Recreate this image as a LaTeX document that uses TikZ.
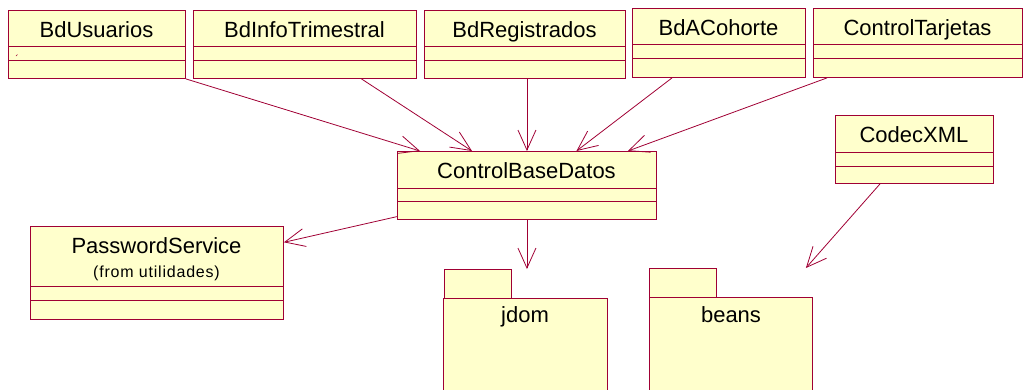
\documentclass[tikz,border=0pt]{standalone}
\usepackage{fontspec}
\setmainfont{Liberation Sans}
\newfontfamily\subfont[LetterSpace=5]{Liberation Sans}
\usetikzlibrary{arrows.meta,calc}
\definecolor{umlred}{RGB}{160,0,52}
\definecolor{umlfill}{RGB}{255,255,204}
\tikzset{
 cls/.style={draw=umlred, fill=umlfill, line width=0.9pt, rectangle, inner sep=0pt, anchor=north west},
 sepline/.style={draw=umlred, line width=0.9pt},
 ttl/.style={inner sep=0pt, font=\fontsize{22}{26}\selectfont, text=black, text height=15.7pt, text depth=0pt},
 subttl/.style={inner sep=0pt, font=\subfont\fontsize{16}{19}\selectfont, text=black, text height=11.7pt, text depth=0pt},
 dep/.style={draw=umlred, line width=0.8pt, -{Straight Barb[length=20pt,width=18pt]}},
}
\newcommand\umlclass[8]{%
 \node[cls, minimum width={(#4)-(#2)}, minimum height={(#5)-(#3)}] (#1) at (#2,#3) {};
 \draw[sepline] (#2,#6) -- (#4,#6) (#2,#7) -- (#4,#7);
 \node[ttl] (#1t) at ({(#2+#4)/2},{(#3+#6)/2+0.8}) {#8};
}
\begin{document}
\begin{tikzpicture}[x=1pt,y=-1pt]
\useasboundingbox (0,0) rectangle (1024,389);
\clip (0,0) rectangle (1024,389);
\umlclass{bdu}{8}{10}{185}{78}{46.7}{60.3}{BdUsuarios}
\umlclass{bdi}{193}{10}{416}{78}{46.7}{60.3}{BdInfoTrimestral}
\umlclass{bdr}{424}{10}{625}{78}{46.7}{60.3}{BdRegistrados}
\umlclass{bda}{632}{8}{805}{77}{44.7}{58.3}{BdACohorte}
\umlclass{ctj}{813}{8}{1022}{77}{44.7}{58.3}{ControlTarjetas}
\umlclass{cbd}{397}{151}{656}{219}{188.3}{201.7}{ControlBaseDatos}
\umlclass{cxm}{835}{115}{993}{183}{152}{166}{CodecXML}
\draw[umlred, line width=0.6pt] (16,56) -- (17.5,54.5);
% PasswordService
\node[cls, minimum width=253, minimum height=93] (pws) at (30,226) {};
\draw[sepline] (30,286.3) -- (283,286.3) (30,300.3) -- (283,300.3);
\node[ttl] (pwst) at (156.5,245.3) {PasswordService};
\node[subttl] (pwss) at (156.5,272) {(from utilidades)};
% packages
\node[cls, minimum width=67, minimum height=29] (jdomtab) at (444,269) {};
\node[cls, minimum width=164, minimum height=100] (jdom) at (443,298) {};
\node[ttl] (jdomt) at (525,314.2) {jdom};
\node[cls, minimum width=67, minimum height=29] (beanstab) at (649,268) {};
\node[cls, minimum width=163, minimum height=100] (beans) at (649,297) {};
\node[ttl] (beanst) at (731,314.2) {beans};
% dependencies
\draw[dep] (bdu.south east) -- ([xshift=23pt]cbd.north west);
\draw[dep] ([xshift=56.5pt]bdi.south) -- ([xshift=75pt]cbd.north west);
\draw[dep] (bdr.south -| cbd.north) -- (cbd.north);
\draw[dep] ([xshift=40pt]bda.south west) -- ([xshift=49.5pt]cbd.north);
\draw[dep] ([xshift=14pt]ctj.south west) -- ([xshift=-29pt]cbd.north east);
\draw[dep] ([yshift=3.3pt]cbd.south west) -- ([yshift=-16.3pt]pws.north east);
\coordinate (jdomin) at (cbd.south |- jdomtab.north);
\draw[dep] (cbd.south) -- (jdomin);
\coordinate (beansin) at ($(beans.north east |- beanstab.north)+(-7,0)$);
\draw[dep] ([xshift=45pt]cxm.south west) -- (beansin);
\end{tikzpicture}
\end{document}
